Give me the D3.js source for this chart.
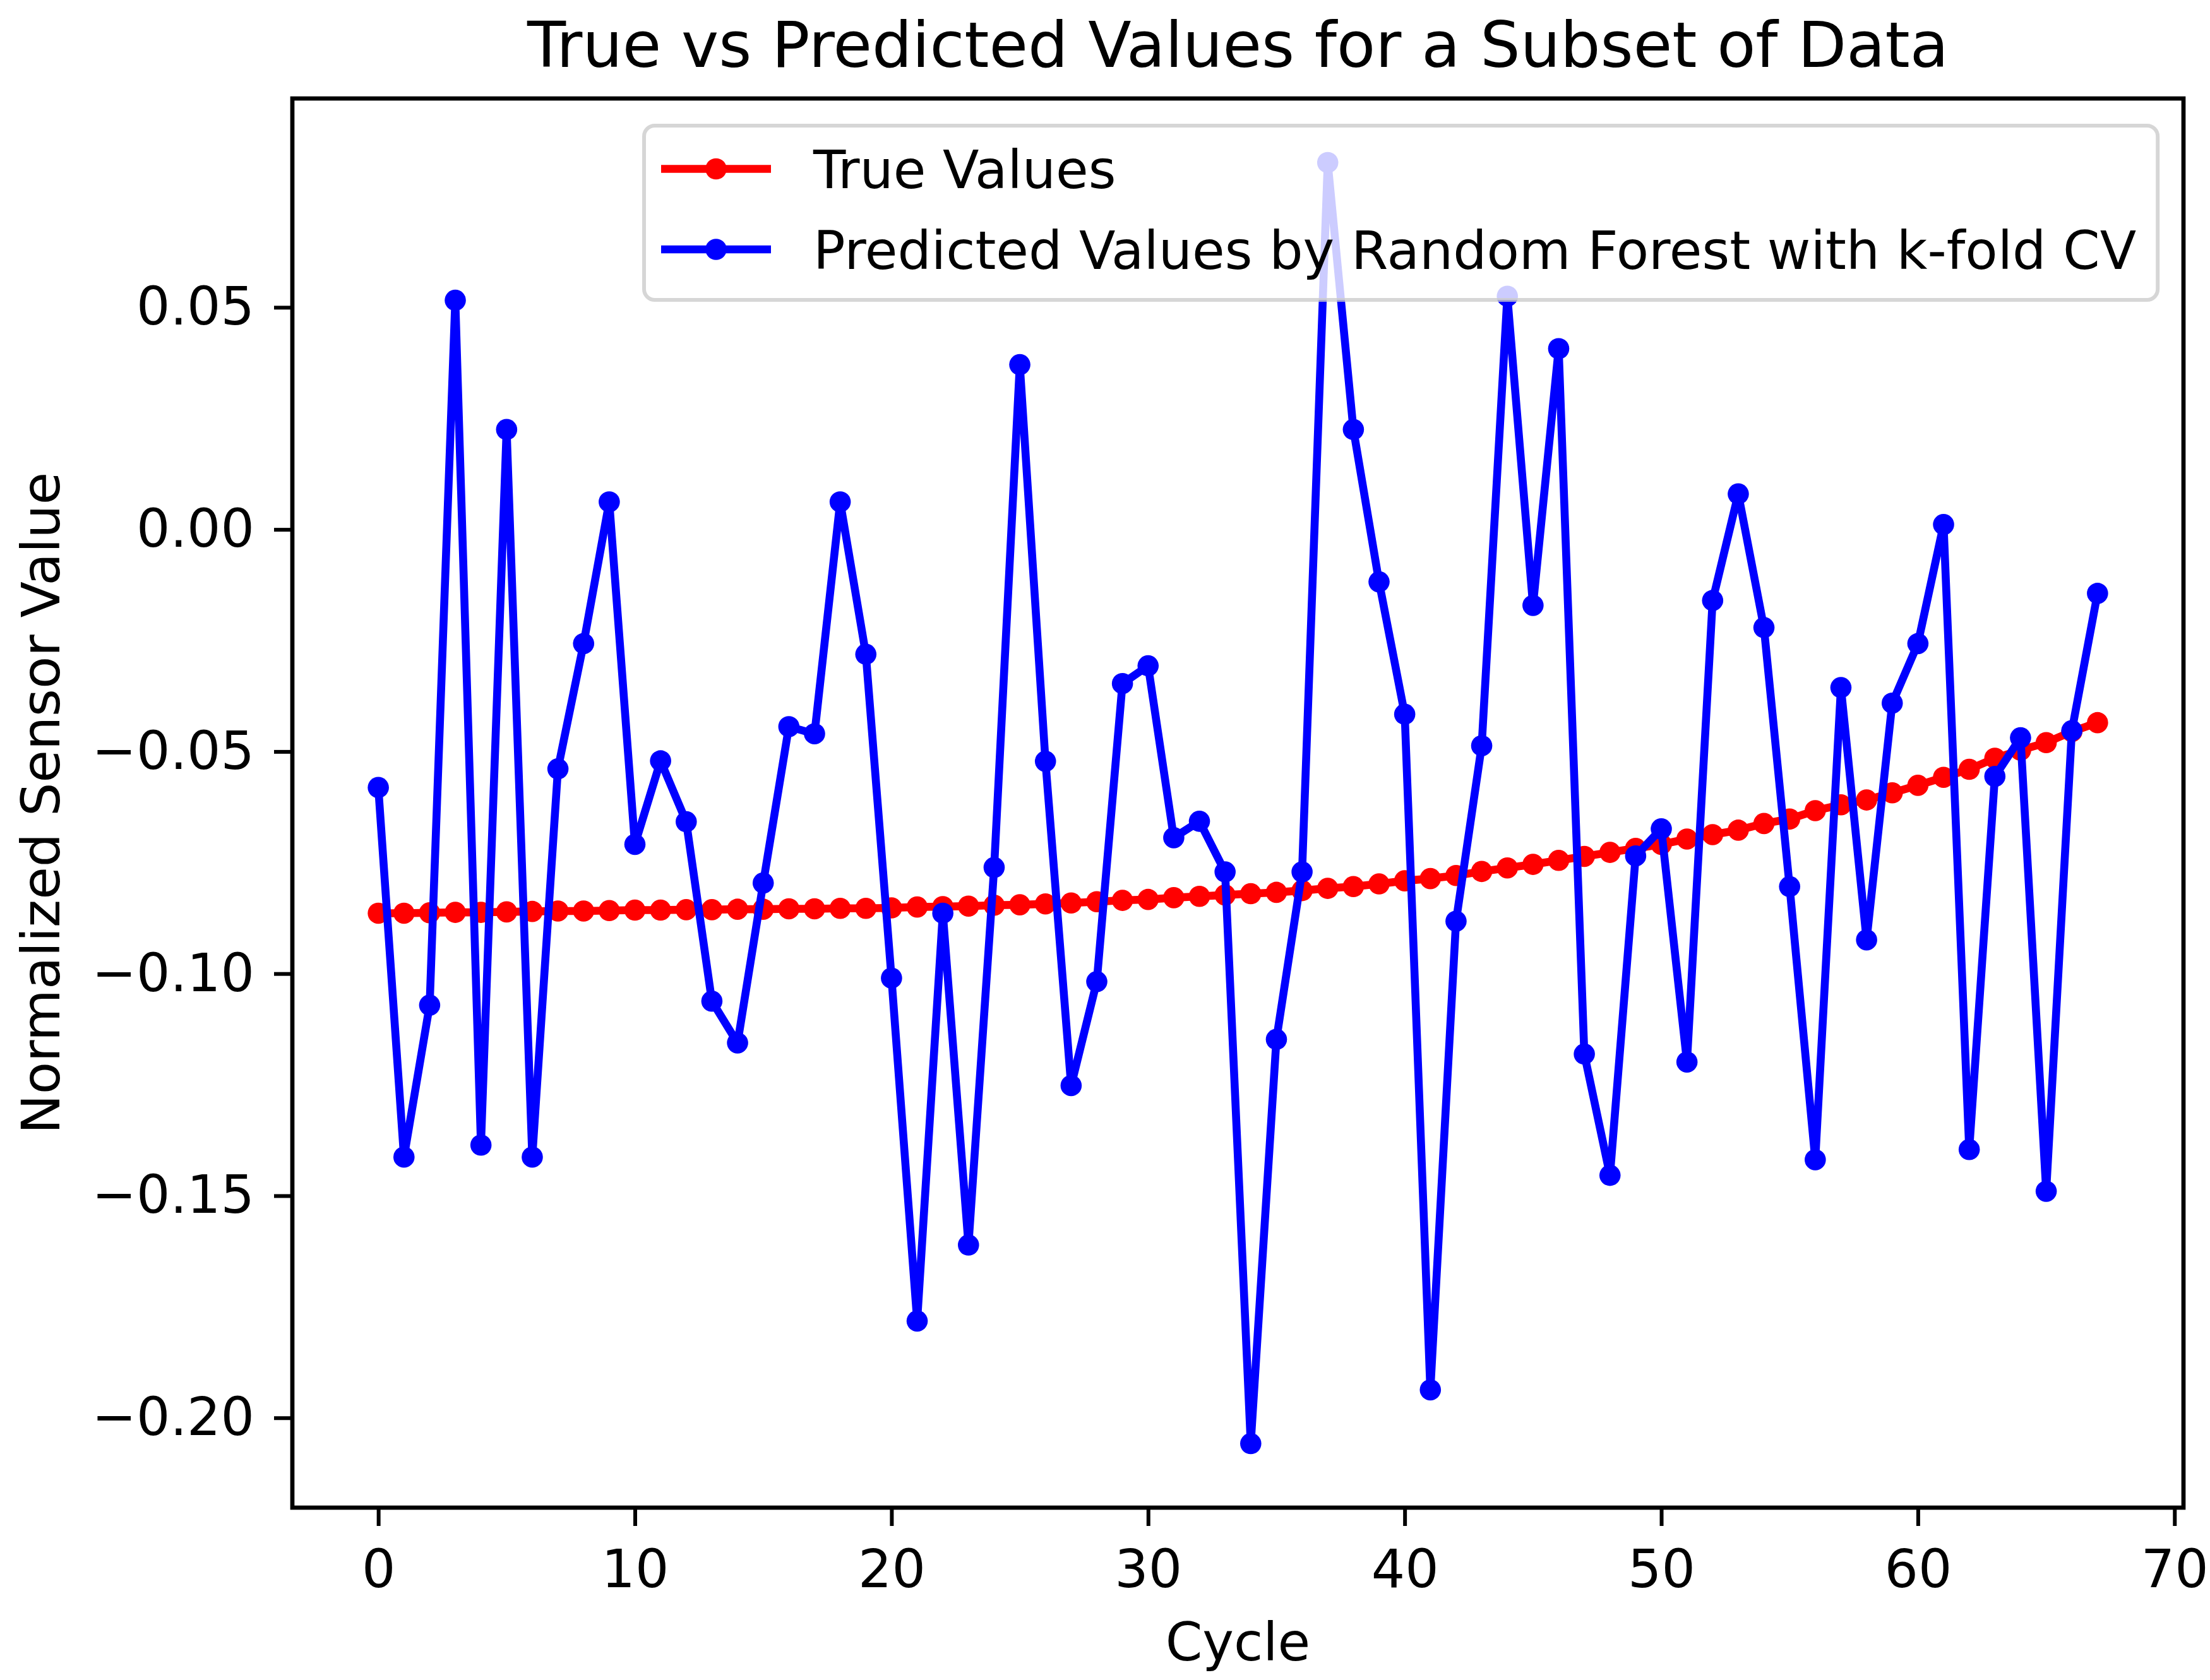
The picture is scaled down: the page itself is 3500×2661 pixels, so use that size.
<!DOCTYPE html>
<html><head><meta charset="utf-8">
<script src="https://cdn.jsdelivr.net/npm/d3@7"></script>
<style>body{margin:0;background:#fff}</style>
</head><body>
<svg id="chart" width="3500" height="2661"></svg>
<script>
const cycles = [0,1,2,3,4,5,6,7,8,9,10,11,12,13,14,15,16,17,18,19,20,21,22,23,24,25,26,27,28,29,30,31,32,33,34,35,36,37,38,39,40,41,42,43,44,45,46,47,48,49,50,51,52,53,54,55,56,57,58,59,60,61,62,63,64,65,66,67];
const trueValues = [-0.0864,-0.0864,-0.0863,-0.0862,-0.0862,-0.0861,-0.0860,-0.0859,-0.0859,-0.0858,
  -0.0857,-0.0857,-0.0856,-0.0856,-0.0855,-0.0855,-0.0854,-0.0854,-0.0853,-0.0853,
  -0.0852,-0.0850,-0.0849,-0.0848,-0.0846,-0.0845,-0.0843,-0.0841,-0.0838,-0.0835,
  -0.0833,-0.0829,-0.0826,-0.0823,-0.0820,-0.0817,-0.0813,-0.0808,-0.0804,-0.0798,
  -0.0791,-0.0786,-0.0779,-0.0770,-0.0762,-0.0754,-0.0745,-0.0736,-0.0727,-0.0718,
  -0.0709,-0.0697,-0.0687,-0.0677,-0.0662,-0.0652,-0.0633,-0.0620,-0.0609,-0.0593,
  -0.0576,-0.0558,-0.0540,-0.0515,-0.0497,-0.0480,-0.0455,-0.0435];
const predictedValues = [-0.0581,-0.1413,-0.1071,0.0516,-0.1386,0.0225,-0.1413,-0.0539,-0.0257,0.0062,
  -0.0709,-0.0521,-0.0658,-0.1062,-0.1156,-0.0796,-0.0444,-0.0460,0.0062,-0.0281,
  -0.1010,-0.1782,-0.0864,-0.1611,-0.0761,0.0371,-0.0522,-0.1252,-0.1018,-0.0347,
  -0.0307,-0.0694,-0.0657,-0.0771,-0.2058,-0.1148,-0.0771,0.0826,0.0225,-0.0118,
  -0.0416,-0.1937,-0.0882,-0.0487,0.0525,-0.0171,0.0407,-0.1181,-0.1454,-0.0735,
  -0.0674,-0.1199,-0.0160,0.0080,-0.0221,-0.0804,-0.1419,-0.0356,-0.0924,-0.0391,
  -0.0257,0.0011,-0.1396,-0.0556,-0.0469,-0.1490,-0.0453,-0.0144];
const xTicks = [0,10,20,30,40,50,60,70];
const yTicks = [-0.20,-0.15,-0.10,-0.05,0.00,0.05];
const titleText = "True vs Predicted Values for a Subset of Data";
const xLabelText = "Cycle";
const yLabelText = "Normalized Sensor Value";
const seriesNames = ["True Values", "Predicted Values by Random Forest with k-fold CV"];
const seriesColors = ["#ff0000", "#0000ff"];

const W = 3500, H = 2661;
const plot = {left: 463, right: 3458, top: 156, bottom: 2388};
const FONT = "DejaVu Sans";
const FS = 84;
const LW = 12.6, MR = 16.8, SPINE = 6.7;

const svg = d3.select("#chart");
svg.append("rect").attr("width", W).attr("height", H).attr("fill", "#fff");

const xExt = d3.extent(cycles), xPad = (xExt[1] - xExt[0]) * 0.05;
const x = d3.scaleLinear().domain([xExt[0] - xPad, xExt[1] + xPad]).range([plot.left, plot.right]);
const yExt = d3.extent(trueValues.concat(predictedValues)), yPad = (yExt[1] - yExt[0]) * 0.05;
const y = d3.scaleLinear().domain([yExt[0] - yPad, yExt[1] + yPad]).range([plot.bottom, plot.top]);

svg.append("defs").append("clipPath").attr("id", "clip")
  .append("rect").attr("x", plot.left).attr("y", plot.top)
  .attr("width", plot.right - plot.left).attr("height", plot.bottom - plot.top);

const series = [trueValues, predictedValues];
const lineGen = d3.line().x((d, i) => x(cycles[i])).y(d => y(d));
const gData = svg.append("g").attr("clip-path", "url(#clip)");
series.forEach((vals, si) => {
  const g = gData.append("g");
  g.append("path").datum(vals).attr("d", lineGen)
    .attr("fill", "none").attr("stroke", seriesColors[si])
    .attr("stroke-width", LW).attr("stroke-linejoin", "round");
  g.selectAll("circle").data(vals).join("circle")
    .attr("cx", (d, i) => x(cycles[i])).attr("cy", d => y(d))
    .attr("r", MR).attr("fill", seriesColors[si]);
});

// axes
const gx = svg.append("g").attr("transform", `translate(0,${plot.bottom})`)
  .call(d3.axisBottom(x).tickValues(xTicks).tickSize(29).tickPadding(37).tickFormat(d3.format("d")));
const gy = svg.append("g").attr("transform", `translate(${plot.left},0)`)
  .call(d3.axisLeft(y).tickValues(yTicks).tickSize(29).tickPadding(31).tickFormat(d3.format(".2f")));
[gx, gy].forEach(g => {
  g.select(".domain").remove();
  g.selectAll(".tick line").attr("stroke", "#000").attr("stroke-width", 6);
  g.selectAll(".tick text").attr("fill", "#000").attr("font-family", FONT).attr("font-size", FS);
});

// frame
svg.append("rect").attr("x", plot.left).attr("y", plot.top)
  .attr("width", plot.right - plot.left).attr("height", plot.bottom - plot.top)
  .attr("fill", "none").attr("stroke", "#000").attr("stroke-width", SPINE);

// legend
const lg = svg.append("g");
const legLeft = 1020, legTop = 199, rowY = [267.5, 395], textX = 1288;
const legRect = lg.append("rect").attr("x", legLeft).attr("y", legTop).attr("height", 276)
  .attr("rx", 17).attr("ry", 17)
  .attr("fill", "rgba(255,255,255,0.8)").attr("stroke", "rgba(204,204,204,0.8)").attr("stroke-width", 6);
let maxLen = 0;
seriesNames.forEach((name, i) => {
  lg.append("line").attr("x1", 1047).attr("x2", 1221).attr("y1", rowY[i]).attr("y2", rowY[i])
    .attr("stroke", seriesColors[i]).attr("stroke-width", LW);
  lg.append("circle").attr("cx", 1134).attr("cy", rowY[i]).attr("r", MR).attr("fill", seriesColors[i]);
  const t = lg.append("text").attr("x", textX).attr("y", rowY[i] + 0.365 * FS)
    .attr("font-family", FONT).attr("font-size", FS).attr("fill", "#000").text(name);
  maxLen = Math.max(maxLen, t.node().getComputedTextLength());
});
legRect.attr("width", textX + maxLen + 34 - legLeft);

// title & labels
svg.append("text").attr("x", (plot.left + plot.right) / 2).attr("y", 106)
  .attr("text-anchor", "middle").attr("font-family", FONT).attr("font-size", 100).attr("fill", "#000")
  .text(titleText);
svg.append("text").attr("x", (plot.left + plot.right) / 2).attr("y", 2630)
  .attr("text-anchor", "middle").attr("font-family", FONT).attr("font-size", FS).attr("fill", "#000")
  .text(xLabelText);
svg.append("text").attr("transform", `translate(94,${(plot.top + plot.bottom) / 2}) rotate(-90)`)
  .attr("text-anchor", "middle").attr("font-family", FONT).attr("font-size", FS).attr("fill", "#000")
  .text(yLabelText);
</script>
</body></html>
